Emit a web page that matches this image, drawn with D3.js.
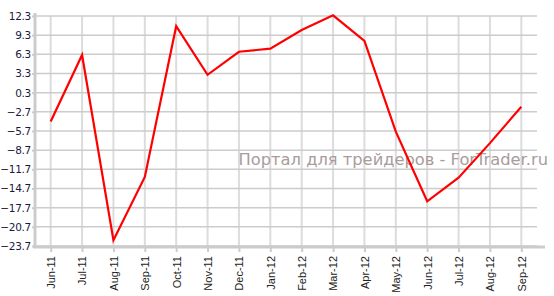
<!DOCTYPE html>
<html>
<head>
<meta charset="utf-8">
<script src="https://cdn.jsdelivr.net/npm/d3@7"></script>
<style>
  body { margin: 0; background: #fff; }
  svg { display: block; }
</style>
</head>
<body>
<div id="chart"></div>
<script>
const months = ['Jun-11', 'Jul-11', 'Aug-11', 'Sep-11', 'Oct-11', 'Nov-11', 'Dec-11', 'Jan-12',
  'Feb-12', 'Mar-12', 'Apr-12', 'May-12', 'Jun-12', 'Jul-12', 'Aug-12', 'Sep-12']
const values = [-4.2, 6.2, -22.8, -12.9, 10.7, 3.1, 6.7, 7.2, 10.1, 12.4, 8.4, -5.8, -16.7, -13.0, -7.6, -1.9]
const yTicks = [12.3, 9.3, 6.3, 3.3, 0.3, -2.7, -5.7, -8.7, -11.7, -14.7, -17.7, -20.7, -23.7]

const width = 554, height = 296
const margin = { top: 16, left: 35, right: 17, bottom: 50 }

const svg = d3.select('#chart').append('svg')
  .attr('width', width)
  .attr('height', height)

const x = d3.scalePoint()
  .domain(months)
  .range([margin.left, width - margin.right])
  .padding(0.5)

const y = d3.scaleLinear()
  .domain([-23.7, 12.3])
  .range([height - margin.bottom, margin.top])

// grid
svg.append('g')
  .selectAll('line')
  .data(months)
  .join('line')
  .attr('x1', d => x(d)).attr('x2', d => x(d))
  .attr('y1', margin.top).attr('y2', height - margin.bottom)
  .attr('stroke', '#dcdcdc')
  .attr('stroke-width', 2)

svg.append('g')
  .selectAll('line')
  .data(yTicks)
  .join('line')
  .attr('x1', margin.left).attr('x2', width - margin.right)
  .attr('y1', d => y(d)).attr('y2', d => y(d))
  .attr('stroke', '#cccccc')
  .attr('stroke-width', 1.5)

// watermark
svg.append('text')
  .attr('x', 548)
  .attr('y', 165)
  .attr('text-anchor', 'end')
  .attr('font-family', 'DejaVu Sans, Verdana, sans-serif')
  .attr('font-size', 16.3)
  .attr('fill', '#a89c9c')
  .text('Портал для трейдеров - ForTrader.ru')

// y axis
const yAxis = svg.append('g')
  .attr('transform', 'translate(' + margin.left + ',0)')
  .call(d3.axisLeft(y).tickValues(yTicks).tickFormat(d3.format('.1f')).tickSize(3).tickPadding(1))
yAxis.select('.domain').attr('stroke', '#cccccc').attr('stroke-width', 3)
  .attr('d', 'M0,' + (margin.top - 3) + 'V' + (height - margin.bottom + 1))
yAxis.selectAll('.tick line').attr('stroke', '#cccccc').attr('stroke-width', 2)
yAxis.selectAll('.tick text')
  .attr('font-family', 'DejaVu Sans, Verdana, sans-serif')
  .attr('font-size', 10.5)
  .attr('letter-spacing', -0.3)
  .attr('fill', '#1a1a40')

// x axis
const xAxis = svg.append('g')
  .attr('transform', 'translate(0,' + (height - margin.bottom + 1) + ')')
  .call(d3.axisBottom(x).tickSize(5))
xAxis.select('.domain').attr('stroke', '#cccccc').attr('stroke-width', 3)
  .attr('d', 'M' + (margin.left - 2) + ',0H' + (width - margin.right + 8))
xAxis.selectAll('.tick line').attr('stroke', '#cccccc').attr('stroke-width', 2)
xAxis.selectAll('.tick text')
  .attr('font-family', 'Liberation Sans, Arial, sans-serif')
  .attr('font-size', 11)
  .attr('fill', '#222')
  .attr('text-anchor', 'end')
  .attr('transform', 'rotate(-90)')
  .attr('x', -9)
  .attr('y', 0)
  .attr('dy', '0.35em')

// line
svg.append('path')
  .datum(values)
  .attr('fill', 'none')
  .attr('stroke', '#ff0000')
  .attr('stroke-width', 2.2)
  .attr('stroke-linejoin', 'miter')
  .attr('d', d3.line().x((d, i) => x(months[i])).y(d => y(d)))
</script>
</body>
</html>
